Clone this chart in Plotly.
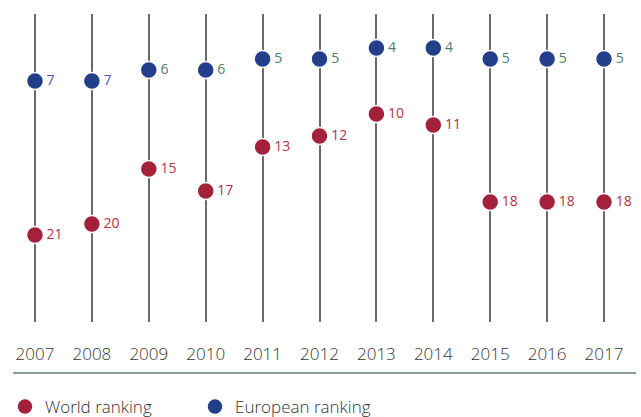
import plotly.graph_objects as go

years = ["2007", "2008", "2009", "2010", "2011", "2012", "2013", "2014", "2015", "2016", "2017"]
world_ranking = [21, 20, 15, 17, 13, 12, 10, 11, 18, 18, 18]
european_ranking = [7, 7, 6, 6, 5, 5, 4, 4, 5, 5, 5]

RED = "#a3213a"
BLUE = "#233f8c"
RED_TXT = "#b0344a"
BLUE_TXT = ["#4a5ca6", "#4a5ca6"] + ["#4f7c78"] * 9
FONT = "Open Sans"

fig = go.Figure()
fig.add_trace(go.Scatter(
    x=years, y=world_ranking, mode="markers+text", name="World ranking",
    text=[str(v) for v in world_ranking], textposition="middle right",
    textfont=dict(family=FONT, size=14, color=RED_TXT, weight=400),
    marker=dict(size=17, color=RED, line=dict(color="white", width=1.5)),
    cliponaxis=False, hoverinfo="skip",
))
fig.add_trace(go.Scatter(
    x=years, y=european_ranking, mode="markers+text", name="European ranking",
    text=[str(v) for v in european_ranking], textposition="middle right",
    textfont=dict(family=FONT, size=14, color=BLUE_TXT, weight=400),
    marker=dict(size=17, color=BLUE, line=dict(color="white", width=1.5)),
    cliponaxis=False, hoverinfo="skip",
))

fig.update_layout(
    width=641, height=417, autosize=False,
    margin=dict(l=0, r=0, t=14, b=95, autoexpand=False),
    paper_bgcolor="white", plot_bgcolor="white",
    font=dict(family=FONT, color="#333333"),
    showlegend=True,
    legend=dict(
        orientation="h", x=5 / 641, xanchor="left", y=-0.276, yanchor="middle",
        font=dict(family=FONT, size=17, color="#333333", weight=300),
        entrywidth=145, entrywidthmode="pixels",
        itemsizing="trace", traceorder="normal",
    ),
    xaxis=dict(
        type="category", range=[-0.615, 10.65], automargin=False,
        showgrid=True, gridcolor="#6a6a6a", gridwidth=1.5,
        zeroline=False, showline=False, ticks="",
        tickfont=dict(family=FONT, size=17, color="#333333", weight=300),
        ticklabelstandoff=20,
    ),
    yaxis=dict(
        range=[28.9, 0.9], showgrid=False, zeroline=False, automargin=False,
        showticklabels=False, showline=False, ticks="",
    ),
    shapes=[dict(
        type="line", xref="paper", yref="paper",
        x0=13 / 641, x1=636 / 641, y0=-(373 - 322) / 308, y1=-(373 - 322) / 308,
        line=dict(color="#5f7f7d", width=1.5),
    )],
)

fig.write_html(
    "out.html",
    config={"displayModeBar": False},
    post_script="document.body.style.margin='0';document.body.style.overflow='hidden';",
)
